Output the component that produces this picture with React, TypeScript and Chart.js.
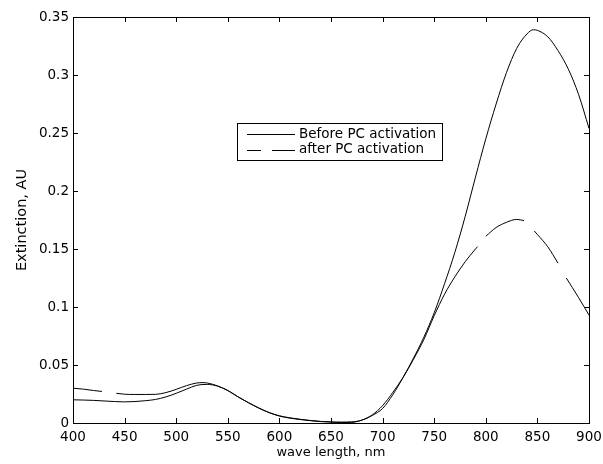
import React, { useEffect, useRef } from "react";
import { Chart, registerables } from "chart.js";

Chart.register(...registerables);

// ---- data ----
const BEFORE_WL = [
  400, 410, 420, 430, 440, 450, 460, 470, 480, 490, 500, 510, 520, 530, 540, 550,
  560, 570, 580, 590, 600, 610, 620, 630, 640, 650, 660, 670, 680, 690, 700, 710,
  720, 730, 740, 750, 760, 770, 780, 790, 800, 810, 820, 830, 840, 846, 850, 860,
  870, 880, 890, 900,
];
const BEFORE_VAL = [
  0.02, 0.0198, 0.0195, 0.019, 0.0185, 0.0182, 0.0185, 0.0192, 0.0203, 0.0225,
  0.0256, 0.0292, 0.0325, 0.0333, 0.0318, 0.028, 0.0225, 0.0175, 0.013, 0.009,
  0.006, 0.0042, 0.003, 0.0022, 0.0014, 0.0008, 0.0004, 0.0005, 0.0025, 0.0065,
  0.0125, 0.0245, 0.0395, 0.056, 0.074, 0.095, 0.12, 0.147, 0.178, 0.212, 0.245,
  0.275, 0.302, 0.323, 0.3355, 0.339, 0.3385, 0.333, 0.321, 0.305, 0.283, 0.254,
];

const AFTER_WL = [
  400, 410, 420, 428, 435, 442, 450, 460, 470, 480, 490, 500, 510, 520, 526, 530,
  540, 550, 560, 570, 580, 590, 600, 610, 620, 630, 640, 650, 660, 670, 680, 690,
  700, 710, 720, 730, 740, 750, 760, 770, 780, 790, 792, 796, 800, 810, 820, 830,
  837, 842, 847, 850, 860, 870, 874, 878, 890, 900,
];
const AFTER_VAL = [
  0.03, 0.0292, 0.028, 0.0272, null, 0.0256, 0.0248, 0.0246, 0.0246, 0.0247,
  0.0262, 0.029, 0.0322, 0.0345, 0.0348, 0.0345, 0.032, 0.028, 0.0225, 0.0175,
  0.0128, 0.009, 0.0062, 0.0045, 0.0032, 0.002, 0.0012, 0.0009, 0.0008, 0.001,
  0.0025, 0.007, 0.015, 0.0265, 0.0395, 0.055, 0.072, 0.0925, 0.111, 0.126,
  0.139, 0.15, 0.152, null, 0.161, 0.1685, 0.173, 0.1755, 0.1745, null, 0.1655,
  0.1625, 0.152, 0.1378, null, 0.125, 0.108, 0.093,
];

const X_TICKS = [400, 450, 500, 550, 600, 650, 700, 750, 800, 850, 900];
const Y_TICKS = [0, 0.05, 0.1, 0.15, 0.2, 0.25, 0.3, 0.35];

const LABEL_BEFORE = "Before PC activation";
const LABEL_AFTER = "after PC activation";
const X_TITLE = "wave length, nm";
const Y_TITLE = "Extinction, AU";

const FONT = "'DejaVu Sans', 'Liberation Sans', Arial, sans-serif";

const frameAndTicks = {
  id: "frameAndTicks",
  afterDraw(chart: any) {
    const { ctx, chartArea, scales } = chart;
    const { left, right, top, bottom } = chartArea;
    const x = scales.x;
    const y = scales.y;
    ctx.save();
    ctx.strokeStyle = "#000";
    ctx.lineWidth = 1;
    ctx.setLineDash([]);
    ctx.beginPath();
    const L = 5;
    for (const v of X_TICKS) {
      const px = Math.round(x.getPixelForValue(v)) + 0.5;
      ctx.moveTo(px, bottom);
      ctx.lineTo(px, bottom - L);
      ctx.moveTo(px, top);
      ctx.lineTo(px, top + L);
    }
    for (const v of Y_TICKS) {
      const py = Math.round(y.getPixelForValue(v)) + 0.5;
      ctx.moveTo(left, py);
      ctx.lineTo(left + L, py);
      ctx.moveTo(right, py);
      ctx.lineTo(right - L, py);
    }
    ctx.stroke();
    ctx.strokeRect(
      Math.round(left) + 0.5,
      Math.round(top) + 0.5,
      Math.round(right - left),
      Math.round(bottom - top)
    );

    // legend box
    const bx = 237.5, by = 123.5, bw = 205, bh = 37;
    ctx.fillStyle = "#fff";
    ctx.fillRect(bx, by, bw, bh);
    ctx.strokeRect(bx, by, bw, bh);
    const r1 = 134.5, r2 = 150.5;
    ctx.beginPath();
    ctx.moveTo(247, r1);
    ctx.lineTo(295, r1);
    ctx.stroke();
    ctx.beginPath();
    ctx.moveTo(247, r2);
    ctx.lineTo(261, r2);
    ctx.moveTo(272, r2);
    ctx.lineTo(295, r2);
    ctx.stroke();
    ctx.fillStyle = "#000";
    ctx.font = `13.5px ${FONT}`;
    ctx.textAlign = "left";
    ctx.textBaseline = "middle";
    ctx.fillText(LABEL_BEFORE, 299, r1 - 0.5);
    ctx.fillText(LABEL_AFTER, 299, r2 - 1.5);
    ctx.restore();
  },
};

export default function App() {
  const ref = useRef<HTMLCanvasElement | null>(null);

  useEffect(() => {
    if (!ref.current) return;
    const chart = new Chart(ref.current, {
      type: "line",
      data: {
        datasets: [
          {
            label: LABEL_BEFORE,
            data: BEFORE_WL.map((w, i) => ({ x: w, y: BEFORE_VAL[i] })),
            borderColor: "#000",
            borderWidth: 1,
            pointRadius: 0,
            cubicInterpolationMode: "monotone",
            fill: false,
          },
          {
            label: LABEL_AFTER,
            data: AFTER_WL.map((w, i) => ({ x: w, y: AFTER_VAL[i] })),
            borderColor: "#000",
            borderWidth: 1,
            pointRadius: 0,
            cubicInterpolationMode: "monotone",
            spanGaps: false,
            fill: false,
          },
        ],
      },
      options: {
        animation: false,
        responsive: false,
        layout: { padding: { top: 17, right: 14, left: 0, bottom: 0 } },
        plugins: {
          legend: { display: false },
          tooltip: { enabled: false },
        },
        scales: {
          x: {
            type: "linear",
            min: 400,
            max: 900,
            grid: { display: false, drawTicks: false },
            border: { display: false },
            afterBuildTicks: (s: any) => {
              s.ticks = X_TICKS.map((v) => ({ value: v }));
            },
            afterFit: (s: any) => {
              s.height = 41;
              s.paddingLeft = 0;
              s.paddingRight = 0;
            },
            ticks: {
              color: "#000",
              font: { family: FONT, size: 13.5 },
              padding: 6,
              maxRotation: 0,
              autoSkip: false,
              callback: (v: any) => String(v),
            },
            title: {
              display: true,
              text: X_TITLE,
              color: "#000",
              font: { family: FONT, size: 13 },
              padding: { top: 0, bottom: 4 },
            },
          },
          y: {
            type: "linear",
            min: 0,
            max: 0.35,
            grid: { display: false, drawTicks: false },
            border: { display: false },
            afterBuildTicks: (s: any) => {
              s.ticks = Y_TICKS.map((v) => ({ value: v }));
            },
            afterFit: (s: any) => {
              s.width = 73;
              s.paddingTop = 0;
              s.paddingBottom = 0;
            },
            ticks: {
              color: "#000",
              font: { family: FONT, size: 13.5 },
              padding: 4,
              callback: (v: any) => String(Number(Number(v).toFixed(2))),
            },
            title: {
              display: true,
              text: Y_TITLE,
              color: "#000",
              font: { family: FONT, size: 14.5 },
              padding: { top: 14, bottom: 0 },
            },
          },
        },
      },
      plugins: [frameAndTicks],
    } as any);
    return () => chart.destroy();
  }, []);

  return (
    <div
      style={{
        position: "fixed",
        left: 0,
        top: 0,
        width: 603,
        height: 464,
        background: "#fff",
      }}
    >
      <canvas ref={ref} width={603} height={464} style={{ display: "block" }} />
    </div>
  );
}
